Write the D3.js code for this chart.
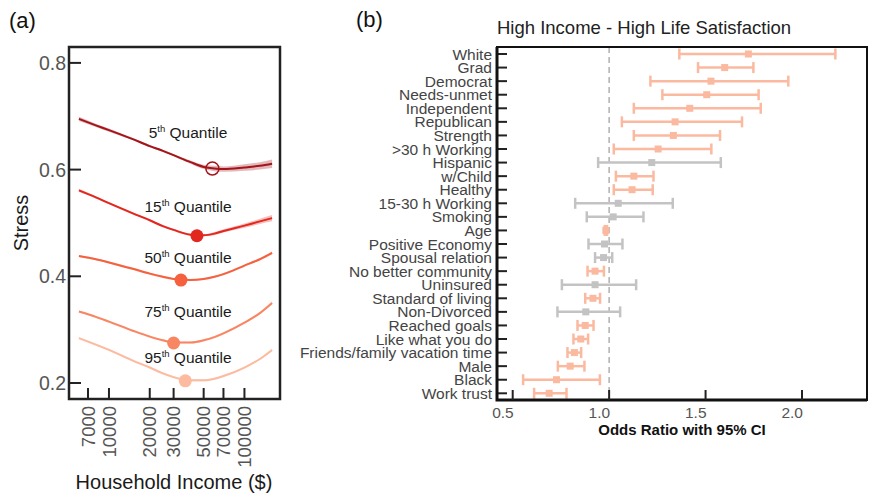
<!DOCTYPE html>
<html>
<head>
<meta charset="utf-8">
<script src="https://cdn.jsdelivr.net/npm/d3@7"></script>
<style>
  html, body { margin: 0; padding: 0; background: #fff; }
  svg { display: block; font-family: "Liberation Sans", Arial, Helvetica, sans-serif; }
  .tick-a { fill: #555; }
  .cat { fill: #444; }
</style>
</head>
<body>
<svg id="chart" width="873" height="495"></svg>
<script>
// ---- panel (a): stress by household income, per quantile ----
const incomes = [6000, 8000, 10000, 15000, 20000, 25000, 30000, 40000, 50000, 60000, 70000, 100000, 130000, 160000];
const incomeTicks = [7000, 10000, 20000, 30000, 50000, 70000, 100000];
const stressTicks = [0.2, 0.4, 0.6, 0.8];

const quantileNames = ["5", "15", "50", "75", "95"];
const quantileColors = ["#a3141b", "#e2271f", "#f5603f", "#f98663", "#fcbba1"];

const stressQ5  = [0.695, 0.683, 0.674, 0.657, 0.644, 0.635, 0.627, 0.614, 0.605, 0.602, 0.601, 0.604, 0.607, 0.611];
const stressQ15 = [0.561, 0.548, 0.537, 0.518, 0.505, 0.494, 0.487, 0.478, 0.477, 0.480, 0.485, 0.495, 0.503, 0.509];
const stressQ50 = [0.438, 0.432, 0.426, 0.414, 0.405, 0.399, 0.395, 0.393, 0.395, 0.399, 0.404, 0.420, 0.432, 0.444];
const stressQ75 = [0.334, 0.324, 0.315, 0.298, 0.287, 0.280, 0.276, 0.276, 0.280, 0.286, 0.293, 0.313, 0.331, 0.350];
const stressQ95 = [0.284, 0.272, 0.262, 0.242, 0.229, 0.218, 0.211, 0.205, 0.205, 0.208, 0.213, 0.229, 0.245, 0.262];

// half width of the shaded band around each curve
const bandQ5  = [0.004, 0.003, 0.003, 0.002, 0.002, 0.002, 0.002, 0.003, 0.004, 0.005, 0.005, 0.006, 0.007, 0.008];
const bandQ15 = [0.003, 0.002, 0.002, 0.002, 0.002, 0.002, 0.002, 0.002, 0.002, 0.003, 0.003, 0.004, 0.005, 0.006];
const bandQ50 = [0.002, 0.002, 0.002, 0.002, 0.002, 0.002, 0.002, 0.002, 0.002, 0.002, 0.002, 0.002, 0.002, 0.003];
const bandQ75 = [0.002, 0.002, 0.002, 0.002, 0.002, 0.002, 0.002, 0.002, 0.002, 0.002, 0.002, 0.002, 0.002, 0.003];
const bandQ95 = [0.002, 0.002, 0.002, 0.002, 0.002, 0.002, 0.002, 0.002, 0.002, 0.002, 0.002, 0.002, 0.002, 0.003];

const minIncome = [58000, 44600, 34000, 30000, 36600];
const minStress = [0.602, 0.476, 0.393, 0.275, 0.204];
const labelStress = [0.659, 0.520, 0.4255, 0.3232, 0.2379]; // baseline of each quantile label

// ---- panel (b): odds ratios ----
const categories = ["White", "Grad", "Democrat", "Needs-unmet", "Independent", "Republican", "Strength",
  ">30 h Working", "Hispanic", "w/Child", "Healthy", "15-30 h Working", "Smoking", "Age", "Positive Economy",
  "Spousal relation", "No better community", "Uninsured", "Standard of living", "Non-Divorced", "Reached goals",
  "Like what you do", "Friends/family vacation time", "Male", "Black", "Work trust"];
const oddsRatio = [1.722, 1.599, 1.528, 1.506, 1.418, 1.342, 1.333, 1.254, 1.221, 1.128, 1.119, 1.047, 1.021,
  0.983, 0.976, 0.971, 0.927, 0.927, 0.916, 0.879, 0.876, 0.853, 0.820, 0.798, 0.727, 0.689];
const ciLow = [1.364, 1.461, 1.214, 1.276, 1.128, 1.066, 1.128, 1.024, 0.943, 1.035, 1.024, 0.824, 0.884,
  0.977, 0.893, 0.927, 0.888, 0.755, 0.876, 0.732, 0.836, 0.815, 0.784, 0.734, 0.554, 0.611];
const ciHigh = [2.173, 1.748, 1.929, 1.775, 1.786, 1.689, 1.575, 1.530, 1.579, 1.230, 1.226, 1.330, 1.178,
  0.989, 1.069, 1.016, 0.973, 1.140, 0.953, 1.057, 0.919, 0.891, 0.855, 0.872, 0.952, 0.779];
const significant = [true, true, true, true, true, true, true, true, false, true, true, false, false,
  true, false, false, true, false, true, false, true, true, true, true, true, true];
const orTicks = [0.5, 1.0, 1.5, 2.0];

(function(){
  const svg = d3.select('#chart');
  svg.append('rect').attr('width', 873).attr('height', 495).attr('fill', '#fff');

  // ===================== (a) =====================
  const A = { left: 69, top: 47, right: 280, bottom: 399 };
  const xA = d3.scaleLog().domain([5070, 183000]).range([A.left, A.right]);
  const yA = d3.scaleLinear().domain([0.17, 0.8298]).range([A.bottom, A.top]);

  svg.append('text').attr('x', 9).attr('y', 28).attr('font-size', 22).attr('fill', '#111').text('(a)');

  const gA = svg.append('g');
  const stressSeries = [stressQ5, stressQ15, stressQ50, stressQ75, stressQ95];
  const bandSeries = [bandQ5, bandQ15, bandQ50, bandQ75, bandQ95];

  const line = d3.line().x(d => xA(d.inc)).y(d => yA(d.v)).curve(d3.curveMonotoneX);
  const area = d3.area().x(d => xA(d.inc)).y0(d => yA(d.v - d.h)).y1(d => yA(d.v + d.h)).curve(d3.curveMonotoneX);

  stressSeries.forEach((vals, qi) => {
    const pts = incomes.map((inc, i) => ({ inc: inc, v: vals[i], h: bandSeries[qi][i] }));
    const col = quantileColors[qi];
    gA.append('path').attr('d', area(pts)).attr('fill', col).attr('opacity', 0.3);
    gA.append('path').attr('d', line(pts)).attr('fill', 'none').attr('stroke', col).attr('stroke-width', 2);

    const c = gA.append('circle')
      .attr('cx', xA(minIncome[qi])).attr('cy', yA(minStress[qi])).attr('r', 6.5);
    if (qi === 0) c.attr('fill', 'none').attr('stroke', col).attr('stroke-width', 1.5);
    else c.attr('fill', col);

    const t = gA.append('text')
      .attr('x', 188).attr('y', yA(labelStress[qi]))
      .attr('text-anchor', 'middle').attr('font-size', 15.5).attr('fill', '#1a1a1a');
    t.append('tspan').text(quantileNames[qi]);
    t.append('tspan').attr('font-size', 9.5).attr('dy', -6).text('th');
    t.append('tspan').attr('dy', 6).text(' Quantile');
  });

  // frame + ticks
  svg.append('rect').attr('x', A.left).attr('y', A.top)
    .attr('width', A.right - A.left).attr('height', A.bottom - A.top)
    .attr('fill', 'none').attr('stroke', '#222').attr('stroke-width', 2.5);

  stressTicks.forEach(v => {
    svg.append('line').attr('x1', A.left).attr('x2', A.left + 12)
      .attr('y1', yA(v)).attr('y2', yA(v)).attr('stroke', '#222').attr('stroke-width', 2);
    svg.append('text').attr('class', 'tick-a').attr('x', A.left - 3).attr('y', yA(v))
      .attr('dy', '0.36em').attr('text-anchor', 'end').attr('font-size', 19.5).text(d3.format('.1f')(v));
  });
  incomeTicks.forEach(v => {
    svg.append('line').attr('x1', xA(v)).attr('x2', xA(v))
      .attr('y1', A.bottom).attr('y2', A.bottom - 11).attr('stroke', '#222').attr('stroke-width', 2);
    svg.append('text').attr('class', 'tick-a')
      .attr('transform', `translate(${xA(v)},${A.bottom + 7}) rotate(-90)`)
      .attr('dy', '0.36em').attr('text-anchor', 'end').attr('font-size', 18.5).text(v);
  });

  svg.append('text').attr('x', 174).attr('y', 489).attr('text-anchor', 'middle')
    .attr('font-size', 20).attr('fill', '#1a1a1a').text('Household Income ($)');
  svg.append('text').attr('transform', 'translate(28,223) rotate(-90)').attr('text-anchor', 'middle')
    .attr('font-size', 20).attr('fill', '#1a1a1a').text('Stress');

  // ===================== (b) =====================
  const B = { left: 497, top: 47, right: 867, bottom: 400 };
  const xB = d3.scaleLinear().domain([0.4186, 2.337]).range([B.left, B.right]);
  const yB = d3.scalePoint().domain(categories).range([54, 393.3]);

  svg.append('text').attr('x', 356).attr('y', 27).attr('font-size', 22).attr('fill', '#111').text('(b)');
  svg.append('text').attr('x', 497).attr('y', 34).attr('font-size', 18.5).attr('fill', '#222')
    .text('High Income - High Life Satisfaction');

  const gB = svg.append('g');
  gB.append('line').attr('x1', xB(1)).attr('x2', xB(1)).attr('y1', B.top).attr('y2', B.bottom)
    .attr('stroke', '#b0b0b0').attr('stroke-width', 1.5).attr('stroke-dasharray', '6,4');

  const salmon = '#fbb9a0', grey = '#c3c3c3';
  categories.forEach((cat, i) => {
    const y = yB(cat);
    const col = significant[i] ? salmon : grey;
    const g = gB.append('g').attr('stroke', col).attr('stroke-width', 2.5);
    g.append('line').attr('x1', xB(ciLow[i])).attr('x2', xB(ciHigh[i])).attr('y1', y).attr('y2', y);
    g.append('line').attr('x1', xB(ciLow[i])).attr('x2', xB(ciLow[i])).attr('y1', y - 5.5).attr('y2', y + 5.5);
    g.append('line').attr('x1', xB(ciHigh[i])).attr('x2', xB(ciHigh[i])).attr('y1', y - 5.5).attr('y2', y + 5.5);
    gB.append('rect').attr('x', xB(oddsRatio[i]) - 3.5).attr('y', y - 3.5)
      .attr('width', 7).attr('height', 7).attr('fill', col);

    svg.append('line').attr('x1', B.left).attr('x2', B.left + 10).attr('y1', y).attr('y2', y)
      .attr('stroke', '#222').attr('stroke-width', 2);
    svg.append('text').attr('class', 'cat').attr('x', 492).attr('y', y).attr('dy', '0.36em')
      .attr('text-anchor', 'end').attr('font-size', 15.5).text(cat);
  });

  svg.append('rect').attr('x', B.left).attr('y', B.top)
    .attr('width', B.right - B.left).attr('height', B.bottom - B.top)
    .attr('fill', 'none').attr('stroke', '#111').attr('stroke-width', 2);
  svg.append('path').attr('d', `M${B.left},${B.top}V${B.bottom}H${B.right}`)
    .attr('fill', 'none').attr('stroke', '#111').attr('stroke-width', 3);

  orTicks.forEach(v => {
    svg.append('line').attr('x1', xB(v)).attr('x2', xB(v)).attr('y1', B.bottom).attr('y2', B.bottom - 10)
      .attr('stroke', '#222').attr('stroke-width', 2);
    svg.append('text').attr('class', 'tick-a').attr('x', xB(v) + 1).attr('y', 418)
      .attr('text-anchor', 'end').attr('font-size', 15.5).text(d3.format('.1f')(v));
  });

  svg.append('text').attr('x', (B.left + B.right) / 2).attr('y', 435).attr('text-anchor', 'middle')
    .attr('font-size', 15).attr('font-weight', 'bold').attr('fill', '#111').text('Odds Ratio with 95% CI');
})();
</script>
</body>
</html>
